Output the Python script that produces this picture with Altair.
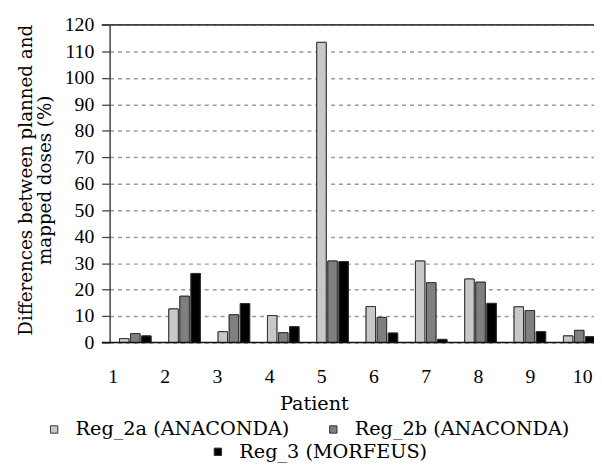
import altair as alt
import pandas as pd

patients = [1, 2, 3, 4, 5, 6, 7, 8, 9, 10]
series_names = ["Reg_2a (ANACONDA)", "Reg_2b (ANACONDA)", "Reg_3 (MORFEUS)"]
reg_2a = [1.5, 12.7, 4.1, 10.2, 113.4, 13.6, 30.8, 24.0, 13.5, 2.5]
reg_2b = [3.4, 17.5, 10.5, 3.7, 30.8, 9.5, 22.6, 22.8, 12.1, 4.6]
reg_3 = [2.5, 26.1, 14.7, 6.0, 30.6, 3.6, 1.2, 14.8, 4.1, 2.2]
colors = ["#c8c8c8", "#7f7f7f", "#000000"]
y_ticks = list(range(0, 121, 10))
y_edges = [0, 120]
y_title = ["Differences between planned and", "mapped doses (%)"]
x_title = "Patient"

rows = []
for name, vals in zip(series_names, [reg_2a, reg_2b, reg_3]):
    for p, v in zip(patients, vals):
        rows.append({"Patient": p, "Series": name, "Value": v})
df = pd.DataFrame(rows)
lab_df = pd.DataFrame({"Patient": patients})
edge_df = pd.DataFrame({"Value": y_edges, "Color": ["#111", "#444"]})

W, H = 491, 322
FONT = "DejaVu Serif"
FONT2 = "Liberation Serif"

y_scale = alt.Scale(domain=[0, 120], nice=False)
y_enc = alt.Y(
    "Value:Q",
    scale=y_scale,
    axis=alt.Axis(
        values=y_ticks,
        title=y_title,
        titleFont=FONT, titleFontSize=18.5, titleFontWeight="normal", titleColor="black",
        titleX=-85, titleY=157, titleBaseline="middle", titleAlign="center", titleLineHeight=19,
        labelFont=FONT2, labelFontSize=20, labelColor="black", labelPadding=8,
        domainColor="#444", domainWidth=1.5,
        tickColor="#444", tickSize=8, tickWidth=1.3,
        grid=True, gridDash=[4, 4], gridColor="#999999", gridWidth=1.5,
    ),
)
color_scale = alt.Scale(domain=series_names, range=colors)


def bars(legend):
    return alt.Chart(df).mark_bar(stroke="#333", strokeWidth=1).encode(
        x=alt.X("Patient:O", scale=alt.Scale(range=[0, 502], paddingInner=0.36, paddingOuter=0.2), axis=None),
        xOffset=alt.XOffset("Series:N", scale=alt.Scale(domain=series_names, paddingInner=0.15)),
        y=y_enc,
        color=alt.Color("Series:N", scale=color_scale, legend=legend),
    )


leg_common = dict(
    orient="none", title=None, labelFont=FONT, labelFontSize=19.5, labelColor="black",
    labelLimit=400, symbolType="square", symbolSize=56, symbolStrokeColor="#333",
    symbolStrokeWidth=1, labelOffset=12, padding=0,
)
bars1 = bars(alt.Legend(values=series_names[:2], legendX=-66, legendY=400, columns=2,
                        columnPadding=34, **leg_common))
bars2 = bars(alt.Legend(values=series_names[2:], legendX=100, legendY=423, **leg_common))

edges = alt.Chart(edge_df).mark_rule(strokeWidth=1.6).encode(
    y=y_enc,
    x=alt.value(-8),
    x2=alt.value(W),
    color=alt.Color("Color:N", scale=None, legend=None),
)

labels = alt.Chart(lab_df).mark_point(opacity=0).encode(
    x=alt.X(
        "Patient:O",
        scale=alt.Scale(type="point", range=[3, 479], padding=0),
        axis=alt.Axis(
            orient="bottom", title=x_title, labelAngle=0, ticks=False, domain=False, grid=False,
            labelFont=FONT2, labelFontSize=20, labelColor="black", labelPadding=24,
            titleFont=FONT, titleFontSize=19.5, titleFontWeight="normal", titleColor="black",
            titleX=207, titleY=62, titleBaseline="middle",
        ),
    )
)

chart = (
    alt.layer(bars1, bars2, edges, labels)
    .resolve_scale(x="independent")
    .resolve_legend(color="independent")
    .properties(
        width=W, height=H,
        autosize=alt.AutoSizeParams(type="none"),
        padding={"left": 103, "top": 14, "right": 0, "bottom": 121},
    )
    .configure_view(stroke=None)
)

chart.save("out.html", embed_options={"renderer": "svg", "actions": False})
